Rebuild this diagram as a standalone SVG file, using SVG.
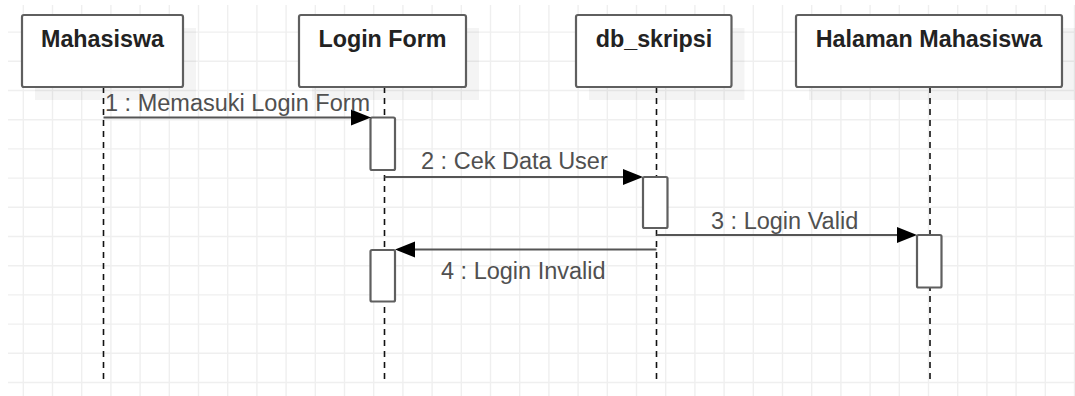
<svg xmlns="http://www.w3.org/2000/svg" width="1075" height="396" viewBox="0 0 1075 396">
<style>
.grid{stroke:#efefef;stroke-width:1.4;fill:none}
.shadow{fill:#000;fill-opacity:0.045}
.box{fill:#fff;stroke:#5f5f5f;stroke-width:2.2}
.title{font-family:"Liberation Sans",Arial,sans-serif;font-weight:bold;font-size:23.3px;fill:#222;text-anchor:middle}
.life{stroke:#111;stroke-width:1.6;stroke-dasharray:6 5;fill:none}
.act{fill:#fff;stroke:#5f5f5f;stroke-width:2.2}
.msg{stroke:#555;stroke-width:2.2;fill:none}
.lbl{font-family:"Liberation Sans",Arial,sans-serif;font-size:23.5px;fill:#505050}
.head{fill:#000}
</style>
<rect width="1075" height="396" fill="#fff"/>
<path class="grid" d="M23.3 5V396M52.5 5V396M81.7 5V396M110.9 5V396M140.1 5V396M169.3 5V396M198.5 5V396M227.7 5V396M256.9 5V396M286.1 5V396M315.3 5V396M344.5 5V396M373.7 5V396M402.9 5V396M432.1 5V396M461.3 5V396M490.5 5V396M519.7 5V396M548.9 5V396M578.1 5V396M607.3 5V396M636.5 5V396M665.7 5V396M694.9 5V396M724.1 5V396M753.3 5V396M782.5 5V396M811.7 5V396M840.9 5V396M870.1 5V396M899.3 5V396M928.5 5V396M957.7 5V396M986.9 5V396M1016.1 5V396M1045.3 5V396M1074.5 5V396M8 32.1H1075M8 61.3H1075M8 90.5H1075M8 119.7H1075M8 148.9H1075M8 178.1H1075M8 207.3H1075M8 236.5H1075M8 265.7H1075M8 294.9H1075M8 324.1H1075M8 353.3H1075M8 382.5H1075"/>
<g id="lifelines">
<line class="life" x1="103.5" y1="87" x2="103.5" y2="381"/>
<line class="life" x1="384.5" y1="87" x2="384.5" y2="381"/>
<line class="life" x1="656.5" y1="87" x2="656.5" y2="381"/>
<line class="life" x1="930" y1="87" x2="930" y2="381"/>
</g>
<g id="mahasiswa">
<rect class="shadow" x="35" y="28" width="161" height="72"/>
<rect class="box" x="22" y="15" width="161" height="72" rx="2"/>
<text class="title" x="102.5" y="46.5">Mahasiswa</text>
</g>
<g id="login-form">
<rect class="shadow" x="312" y="28" width="167" height="72"/>
<rect class="box" x="299" y="15" width="167" height="72" rx="2"/>
<text class="title" x="382.5" y="46.5">Login Form</text>
</g>
<g id="db-skripsi">
<rect class="shadow" x="589" y="28" width="155.5" height="72"/>
<rect class="box" x="576" y="15" width="155.5" height="72" rx="2"/>
<text class="title" x="654" y="46.5">db_skripsi</text>
</g>
<g id="halaman-mahasiswa">
<rect class="shadow" x="809" y="28" width="266" height="72"/>
<rect class="box" x="796" y="15" width="266" height="72" rx="2"/>
<text class="title" x="929" y="46.5">Halaman Mahasiswa</text>
</g>
<g id="activations">
<rect class="act" x="370.5" y="117.5" width="24.5" height="52.5" rx="1.5"/>
<rect class="act" x="643" y="177" width="24.5" height="51" rx="1.5"/>
<rect class="act" x="917" y="235" width="24.5" height="52.5" rx="1.5"/>
<rect class="act" x="370.5" y="250" width="24.5" height="51.5" rx="1.5"/>
</g>
<g id="connectors">
<line class="msg" x1="103.5" y1="117.5" x2="353" y2="117.5"/>
<polygon class="head" points="351,109.5 371,117.5 351,125.5"/>
<text class="lbl" x="105" y="111">1 : Memasuki Login Form</text>
<line class="msg" x1="384.5" y1="177" x2="625" y2="177"/>
<polygon class="head" points="623,169 643,177 623,185"/>
<text class="lbl" x="421" y="169">2 : Cek Data User</text>
<line class="msg" x1="656.5" y1="235" x2="899" y2="235"/>
<polygon class="head" points="897,227 917,235 897,243"/>
<text class="lbl" x="711" y="228.5">3 : Login Valid</text>
<line class="msg" x1="656.5" y1="249.5" x2="413" y2="249.5"/>
<polygon class="head" points="415,241.5 395,249.5 415,257.5"/>
<text class="lbl" x="441" y="279">4 : Login Invalid</text>
</g>
</svg>
